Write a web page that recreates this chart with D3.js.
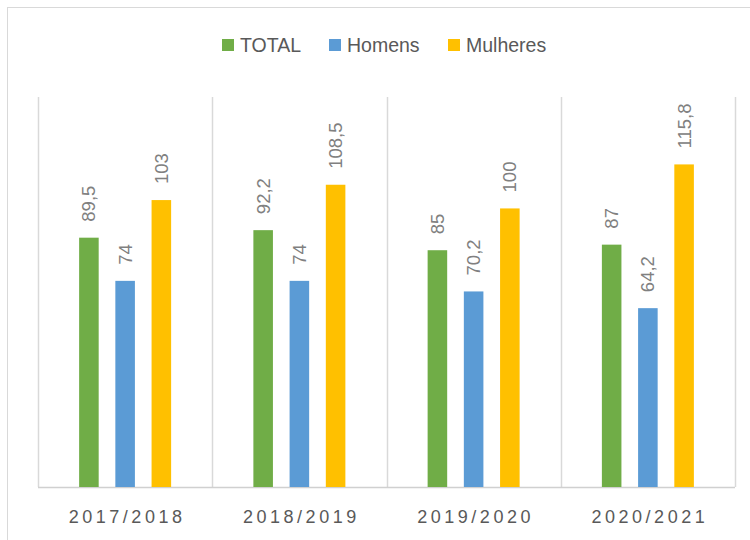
<!DOCTYPE html>
<html lang="pt">
<head>
<meta charset="utf-8">
<title>Chart</title>
<script src="https://cdn.jsdelivr.net/npm/d3@7"></script>
<style>
    body { margin: 0; background: #fff; }
    text { font-family: "Liberation Sans", Arial, sans-serif; fill: #595959; }
</style>
</head>
<body>
<script>
    // data
    var categories = ["2017/2018", "2018/2019", "2019/2020", "2020/2021"];
    var seriesNames = ["TOTAL", "Homens", "Mulheres"];
    var total = [89.5, 92.2, 85, 87];
    var homens = [74, 74, 70.2, 64.2];
    var mulheres = [103, 108.5, 100, 115.8];
    var colors = ["#70AD47", "#5B9BD5", "#FFC000"];

    var w = 750, h = 540;
    var plot = {left: 38, right: 735, top: 97, bottom: 487};
    var groupW = 92;

    var svg = d3.select("body").append("svg")
        .attr("width", w)
        .attr("height", h);

    // chart border
    svg.append("rect")
        .attr("x", 7.5).attr("y", 7.5)
        .attr("width", 760).attr("height", 560)
        .attr("fill", "none")
        .attr("stroke", "#d9d9d9");

    var x = d3.scaleBand()
        .domain(categories)
        .range([plot.left, plot.right]);

    var x1 = d3.scaleBand()
        .domain(seriesNames)
        .range([0, groupW])
        .paddingInner(0.46);

    var y = d3.scaleLinear()
        .domain([0, 140])
        .range([plot.bottom, plot.top]);

    // vertical grid lines between categories
    var bounds = categories.map(function (c) { return x(c); }).concat([plot.right]);
    svg.selectAll("line.grid")
        .data(bounds)
        .enter()
        .append("line")
        .attr("class", "grid")
        .attr("x1", d => Math.round(d) + 0.5)
        .attr("x2", d => Math.round(d) + 0.5)
        .attr("y1", plot.top)
        .attr("y2", plot.bottom)
        .attr("stroke", "#d9d9d9")
        .attr("stroke-width", 1.5);

    // axis line
    svg.append("line")
        .attr("x1", plot.left).attr("x2", plot.right)
        .attr("y1", plot.bottom + 0.5).attr("y2", plot.bottom + 0.5)
        .attr("stroke", "#d0d0d0")
        .attr("stroke-width", 1.5);

    var rows = categories.map(function (c, i) {
        return {cat: c, vals: [total[i], homens[i], mulheres[i]]};
    });

    var groups = svg.selectAll("g.cat")
        .data(rows)
        .enter()
        .append("g")
        .attr("class", "cat")
        .attr("transform", d => "translate(" + (x(d.cat) + x.bandwidth() / 2 - groupW / 2) + ",0)");

    groups.selectAll("rect")
        .data(d => d.vals.map((v, j) => ({name: seriesNames[j], v: v, c: colors[j]})))
        .enter()
        .append("rect")
        .attr("x", d => x1(d.name))
        .attr("y", d => y(d.v))
        .attr("width", x1.bandwidth())
        .attr("height", d => y(0) - y(d.v))
        .attr("fill", d => d.c);

    // value labels, rotated
    groups.selectAll("text")
        .data(d => d.vals.map((v, j) => ({name: seriesNames[j], v: v})))
        .enter()
        .append("text")
        .attr("transform", function (d) {
            var cx = x1(d.name) + x1.bandwidth() / 2 + 6.5;
            return "translate(" + cx + "," + (y(d.v) - 16) + ") rotate(-90)";
        })
        .attr("font-size", "18.5px")
        .style("fill", "#808080")
        .text(d => String(d.v).replace(".", ","));

    // category labels
    svg.selectAll("text.xlab")
        .data(categories)
        .enter()
        .append("text")
        .attr("class", "xlab")
        .attr("x", d => x(d) + x.bandwidth() / 2 + 2)
        .attr("y", 523)
        .attr("text-anchor", "middle")
        .attr("font-size", "18px")
        .attr("letter-spacing", "3.5px")
        .text(d => d);

    // legend
    var legendX = [222, 329, 448];
    var leg = svg.selectAll("g.leg")
        .data(seriesNames)
        .enter()
        .append("g")
        .attr("class", "leg")
        .attr("transform", (d, i) => "translate(" + legendX[i] + ",39)");

    leg.append("rect")
        .attr("width", 12).attr("height", 12)
        .attr("fill", (d, i) => colors[i]);

    leg.append("text")
        .attr("x", 18)
        .attr("y", 13)
        .attr("font-size", "19.5px")
        .text(d => d);
</script>
</body>
</html>
